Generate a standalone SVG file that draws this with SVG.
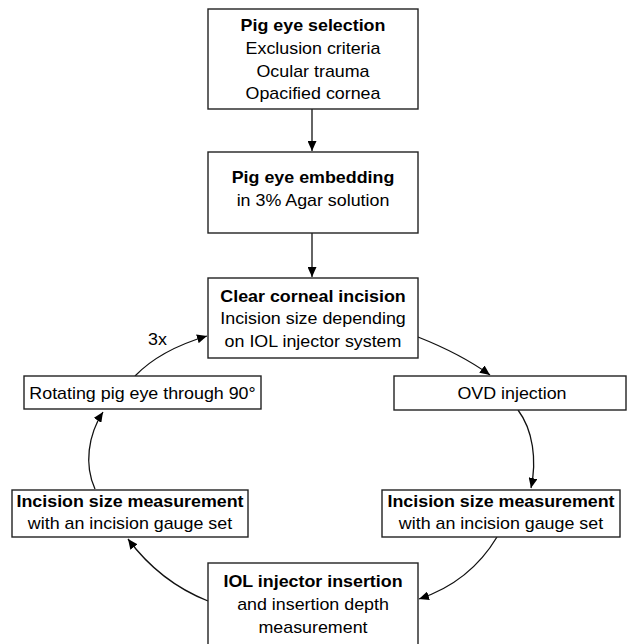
<svg xmlns="http://www.w3.org/2000/svg" width="627" height="644" viewBox="0 0 627 644">
<defs>
<marker id="ah" markerUnits="userSpaceOnUse" markerWidth="11" markerHeight="9" refX="10" refY="4.5" orient="auto">
<path d="M0,0 L10,4.5 L0,9 z" fill="#000"/>
</marker>
<style>
.box{fill:#fff;stroke:#222;stroke-width:1.4}
.t{font-family:"Liberation Sans",Arial,sans-serif;font-size:16px;fill:#000;text-anchor:middle}
.b{font-weight:bold}
.c{fill:none;stroke:#111;stroke-width:1.3;marker-end:url(#ah)}
</style>
</defs>
<rect width="627" height="644" fill="#fff"/>
<g id="connectors">
<path class="c" d="M312,109 L312,151"/>
<path class="c" d="M312,233 L312,277"/>
<path class="c" d="M418,337 Q461,354 490,375"/>
<path class="c" d="M518,410 C533,430 537,460 531,488"/>
<path class="c" d="M497,537 Q470,582 419,599"/>
<path class="c" d="M208,601 Q160,582 128,539"/>
<path class="c" d="M95,489 C84,465 88,435 103,412"/>
<path class="c" d="M135,376 Q160,350 207,336"/>
</g>
<g id="selection">
<rect class="box" x="208" y="9" width="210" height="100"/>
<text class="t b" transform="translate(313 31) scale(1.116 1)">Pig eye selection</text>
<text class="t" transform="translate(313 54) scale(1.116 1)">Exclusion criteria</text>
<text class="t" transform="translate(313 76.5) scale(1.116 1)">Ocular trauma</text>
<text class="t" transform="translate(313 99) scale(1.116 1)">Opacified cornea</text>
</g>
<g id="embedding">
<rect class="box" x="208" y="152" width="210" height="81"/>
<text class="t b" transform="translate(313 183) scale(1.116 1)">Pig eye embedding</text>
<text class="t" transform="translate(313 206) scale(1.116 1)">in 3% Agar solution</text>
</g>
<g id="incision">
<rect class="box" x="208" y="278" width="210" height="80"/>
<text class="t b" transform="translate(313 302) scale(1.116 1)">Clear corneal incision</text>
<text class="t" transform="translate(313 324) scale(1.116 1)">Incision size depending</text>
<text class="t" transform="translate(313 346.5) scale(1.116 1)">on IOL injector system</text>
</g>
<g id="rotating">
<rect class="box" x="24" y="376" width="237" height="33"/>
<text class="t" transform="translate(142.5 399) scale(1.116 1)">Rotating pig eye through 90°</text>
</g>
<g id="label3x">
<text class="t" transform="translate(157.5 345) scale(1.116 1)">3x</text>
</g>
<g id="ovd">
<rect class="box" x="394" y="376" width="232" height="34"/>
<text class="t" transform="translate(512 399) scale(1.116 1)">OVD injection</text>
</g>
<g id="measure-left">
<rect class="box" x="12" y="490" width="236" height="47"/>
<text class="t b" transform="translate(130 507) scale(1.116 1)">Incision size measurement</text>
<text class="t" transform="translate(130 528.5) scale(1.116 1)">with an incision gauge set</text>
</g>
<g id="measure-right">
<rect class="box" x="382" y="490" width="238" height="47"/>
<text class="t b" transform="translate(501 507) scale(1.116 1)">Incision size measurement</text>
<text class="t" transform="translate(501 528.5) scale(1.116 1)">with an incision gauge set</text>
</g>
<g id="iol">
<rect class="box" x="208" y="563" width="210" height="100"/>
<text class="t b" transform="translate(313 587) scale(1.116 1)">IOL injector insertion</text>
<text class="t" transform="translate(313 610) scale(1.116 1)">and insertion depth</text>
<text class="t" transform="translate(313 633) scale(1.116 1)">measurement</text>
</g>
</svg>
